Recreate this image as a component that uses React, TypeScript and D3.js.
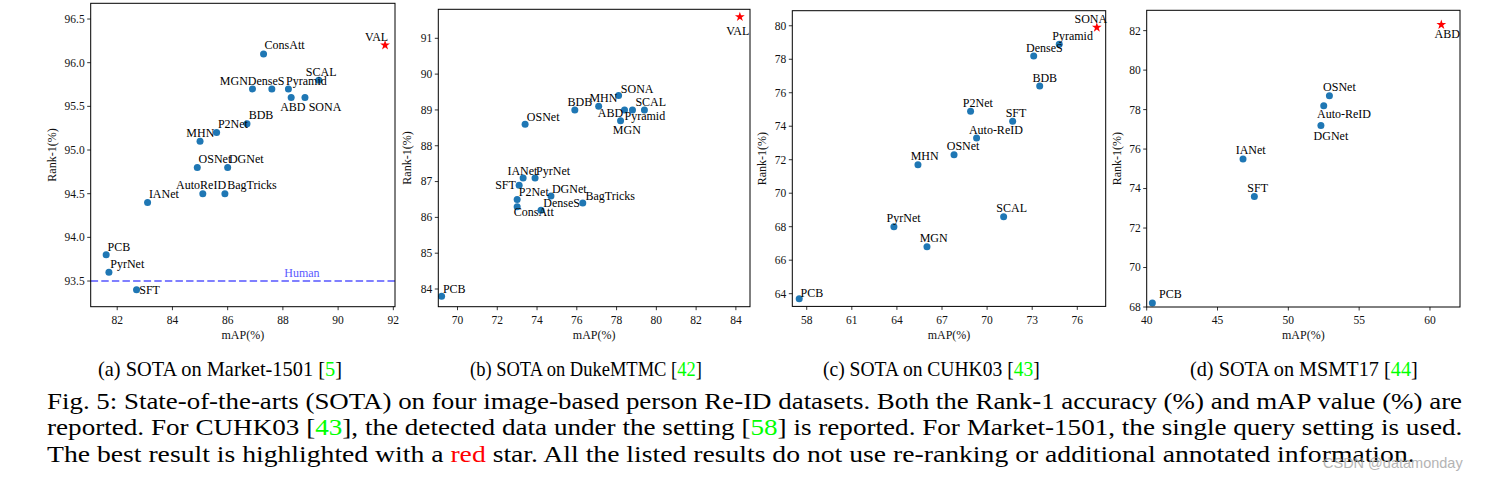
import React, { useLayoutEffect, useRef, useState } from 'react';
import * as d3 from 'd3';

// values: x = mAP(%), y = Rank-1(%)

// (a) Market-1501
const marketMethods = ['ConsAtt', 'SCAL', 'MGN', 'DenseS', 'Pyramid', 'ABD', 'SONA', 'BDB', 'P2Net', 'MHN', 'OSNet', 'DGNet', 'AutoReID', 'BagTricks', 'IANet', 'PCB', 'PyrNet', 'SFT'];
const marketMAP = [87.3, 89.3, 86.9, 87.6, 88.2, 88.3, 88.8, 86.7, 85.6, 85.0, 84.9, 86.0, 85.1, 85.9, 83.1, 81.6, 81.7, 82.7];
const marketRank1 = [96.1, 95.8, 95.7, 95.7, 95.7, 95.6, 95.6, 95.3, 95.2, 95.1, 94.8, 94.8, 94.5, 94.5, 94.4, 93.8, 93.6, 93.4];
const marketBest: [string, number, number] = ['VAL', 91.7, 96.2];
const marketHuman = 93.5;
const marketXTicks = [82, 84, 86, 88, 90, 92];
const marketYTicks = [93.5, 94.0, 94.5, 95.0, 95.5, 96.0, 96.5];

// (b) DukeMTMC
const dukeMethods = ['SONA', 'MHN', 'BDB', 'ABD', 'Pyramid', 'SCAL', 'MGN', 'OSNet', 'IANet', 'PyrNet', 'SFT', 'P2Net', 'ConsAtt', 'DGNet', 'DenseS', 'BagTricks', 'PCB'];
const dukeMAP = [78.1, 77.1, 75.9, 78.4, 78.8, 79.4, 78.2, 73.4, 73.3, 73.9, 73.1, 73.0, 73.0, 74.7, 74.2, 76.3, 69.2];
const dukeRank1 = [89.4, 89.1, 89.0, 89.0, 89.0, 89.0, 88.7, 88.6, 87.1, 87.1, 86.9, 86.5, 86.3, 86.6, 86.2, 86.4, 83.8];
const dukeBest: [string, number, number] = ['VAL', 84.2, 91.6];
const dukeXTicks = [70, 72, 74, 76, 78, 80, 82, 84];
const dukeYTicks = [84, 85, 86, 87, 88, 89, 90, 91];

// (c) CUHK03 (detected)
const cuhkMethods = ['Pyramid', 'DenseS', 'BDB', 'P2Net', 'SFT', 'Auto-ReID', 'OSNet', 'MHN', 'SCAL', 'PyrNet', 'MGN', 'PCB'];
const cuhkMAP = [74.8, 73.1, 73.5, 68.9, 71.7, 69.3, 67.8, 65.4, 71.1, 63.8, 66.0, 57.5];
const cuhkRank1 = [78.9, 78.2, 76.4, 74.9, 74.3, 73.3, 72.3, 71.7, 68.6, 68.0, 66.8, 63.7];
const cuhkBest: [string, number, number] = ['SONA', 77.3, 79.9];
const cuhkXTicks = [58, 61, 64, 67, 70, 73, 76];
const cuhkYTicks = [64, 66, 68, 70, 72, 74, 76, 78, 80];

// (d) MSMT17
const msmtMethods = ['OSNet', 'Auto-ReID', 'DGNet', 'IANet', 'SFT', 'PCB'];
const msmtMAP = [52.9, 52.5, 52.3, 46.8, 47.6, 40.4];
const msmtRank1 = [78.7, 78.2, 77.2, 75.5, 73.6, 68.2];
const msmtBest: [string, number, number] = ['ABD', 60.8, 82.3];
const msmtXTicks = [40, 45, 50, 55, 60];
const msmtYTicks = [68, 70, 72, 74, 76, 78, 80, 82];

// captions
type Seg = [string, string?];
const subCaptions: Seg[][] = [
  [['(a) SOTA on Market-1501 ['], ['5', 'green'], [']']],
  [['(b) SOTA on DukeMTMC ['], ['42', 'green'], [']']],
  [['(c) SOTA on CUHK03 ['], ['43', 'green'], [']']],
  [['(d) SOTA on MSMT17 ['], ['44', 'green'], [']']],
];
const figCaption: Seg[][] = [
  [['Fig. 5: State-of-the-arts (SOTA) on four image-based person Re-ID datasets. Both the Rank-1 accuracy (%) and mAP value (%) are']],
  [['reported. For CUHK03 ['], ['43', 'green'], ['], the detected data under the setting ['], ['58', 'green'], ['] is reported. For Market-1501, the single query setting is used.']],
  [['The best result is highlighted with a '], ['red', 'red'], [' star. All the listed results do not use re-ranking or additional annotated information.']],
];

const SERIF = '"Liberation Serif", "Times New Roman", serif';
const BLUE = '#1f77b4';
const colorOf = (c?: string) => (c === 'green' ? '#00ff00' : c === 'red' ? '#ff0000' : '#000');

interface Spec {
  methods: string[];
  mAP: number[];
  rank1: number[];
  best: [string, number, number];
  xTicks: number[];
  yTicks: number[];
  yFmt: string;
  frame: { left: number; right: number; top: number; bottom: number };
  xDomain: [number, number];
  yDomain: [number, number];
  yLabelX: number;
  offsets: Record<string, [number, number]>;
  bestOffset: [number, number];
  human?: number;
}

const DEF: [number, number] = [1.3, -4.3];

const specs: Spec[] = [
  {
    methods: marketMethods, mAP: marketMAP, rank1: marketRank1, best: marketBest,
    xTicks: marketXTicks, yTicks: marketYTicks, yFmt: '.1f',
    frame: { left: 90.7, right: 395, top: 3.3, bottom: 306.7 },
    xDomain: [81.04, 92.06], yDomain: [93.206, 96.68], yLabelX: 55.6,
    offsets: {
      ConsAtt: [1, -4.7], SCAL: [-13, -4.3], MGN: [-32.7, -4], DenseS: [-24, -4], Pyramid: [-2.3, -4],
      ABD: [-11, 13], SONA: [3.7, 13], BDB: [1.7, -4.7], MHN: [-13.7, -4.7], AutoReID: [-26.7, -4.7],
      BagTricks: [2.3, -4.7], SFT: [2.7, 4.7],
    },
    bestOffset: [-20, -4.3],
    human: marketHuman,
  },
  {
    methods: dukeMethods, mAP: dukeMAP, rank1: dukeRank1, best: dukeBest,
    xTicks: dukeXTicks, yTicks: dukeYTicks, yFmt: 'd',
    frame: { left: 438.3, right: 750, top: 9.3, bottom: 306.7 },
    xDomain: [69.034, 84.71], yDomain: [83.506, 91.81], yLabelX: 410.6,
    offsets: {
      SONA: [2.3, -3], MHN: [-9.3, -4.3], BDB: [-7.3, -3.7], ABD: [-26.7, 7], Pyramid: [-8, 10.3],
      SCAL: [-9, -3.7], MGN: [-7.7, 13.2], OSNet: [1.7, -3.3], IANet: [-15.7, -2.7], PyrNet: [1, -2.7],
      SFT: [-24, 3.6], P2Net: [1.6, -3.3], ConsAtt: [-3.4, 9.3], DGNet: [1, -3], DenseS: [2.3, -3.3],
      BagTricks: [2.7, -3.4], PCB: [1.3, -3.3],
    },
    bestOffset: [-13.7, 18.3],
  },
  {
    methods: cuhkMethods, mAP: cuhkMAP, rank1: cuhkRank1, best: cuhkBest,
    xTicks: cuhkXTicks, yTicks: cuhkYTicks, yFmt: 'd',
    frame: { left: 792.3, right: 1105.7, top: 10.7, bottom: 306.4 },
    xDomain: [57.04, 77.89], yDomain: [63.24, 80.9], yLabelX: 765.6,
    offsets: {
      Pyramid: [-7, -4.3], DenseS: [-7.7, -4.3], BDB: [-7.3, -4.3], P2Net: [-7.7, -4.3], SFT: [-7, -4.3],
      'Auto-ReID': [-7.7, -4], OSNet: [-7.3, -4.3], MHN: [-7.3, -4.3], SCAL: [-7.3, -4.3],
      PyrNet: [-7.3, -4.3], MGN: [-7.3, -4.3], PCB: [1.3, -1.7],
    },
    bestOffset: [-22.3, -4.7],
  },
  {
    methods: msmtMethods, mAP: msmtMAP, rank1: msmtRank1, best: msmtBest,
    xTicks: msmtXTicks, yTicks: msmtYTicks, yFmt: 'd',
    frame: { left: 1146.7, right: 1460, top: 10.3, bottom: 307 },
    xDomain: [40, 62.12], yDomain: [68, 83.03], yLabelX: 1120.6,
    offsets: {
      OSNet: [-6.3, -5], 'Auto-ReID': [-6.7, 12], DGNet: [-7.3, 14.7], IANet: [-7.3, -5],
      SFT: [-7, -4.3], PCB: [6.7, -5.3],
    },
    bestOffset: [-6.7, 13],
  },
];

const Panel: React.FC<{ spec: Spec }> = ({ spec }) => {
  const f = spec.frame;
  const x = d3.scaleLinear().domain(spec.xDomain).range([f.left, f.right]);
  const y = d3.scaleLinear().domain(spec.yDomain).range([f.bottom, f.top]);
  const fmt = d3.format(spec.yFmt);
  const star = d3.symbol(d3.symbolStar, 30)() || '';
  const [bName, bx, by] = spec.best;
  return (
    <g fontFamily={SERIF}>
      {spec.human != null && (
        <g>
          <line x1={f.left} x2={f.right} y1={y(spec.human)} y2={y(spec.human)}
            stroke="#7f7fff" strokeWidth={2} strokeDasharray="7.4 3.2" />
          <text x={x(88) + 1.4} y={y(spec.human) - 4.3} fontSize={12} fill="#5a5aff">Human</text>
        </g>
      )}
      {spec.methods.map((m, i) => (
        <circle key={m} cx={x(spec.mAP[i])} cy={y(spec.rank1[i])} r={3.5} fill={BLUE} />
      ))}
      <path d={star} transform={`translate(${x(bx)},${y(by)})`} fill="#ff0000" />
      {spec.methods.map((m, i) => {
        const [dx, dy] = spec.offsets[m] || DEF;
        return (
          <text key={m} x={x(spec.mAP[i]) + dx} y={y(spec.rank1[i]) + dy} fontSize={12} fill="#000">{m}</text>
        );
      })}
      <text x={x(bx) + spec.bestOffset[0]} y={y(by) + spec.bestOffset[1]} fontSize={12} fill="#000">{bName}</text>

      <rect x={f.left} y={f.top} width={f.right - f.left} height={f.bottom - f.top}
        fill="none" stroke="#000" strokeWidth={1} />
      {spec.xTicks.map(t => (
        <g key={t}>
          <line x1={x(t)} x2={x(t)} y1={f.bottom} y2={f.bottom + 3.5} stroke="#000" strokeWidth={0.8} />
          <text x={x(t)} y={f.bottom + 17.3} fontSize={11.5} textAnchor="middle" fill="#111">{t}</text>
        </g>
      ))}
      {spec.yTicks.map(t => (
        <g key={t}>
          <line x1={f.left - 3.5} x2={f.left} y1={y(t)} y2={y(t)} stroke="#000" strokeWidth={0.8} />
          <text x={f.left - 6} y={y(t)} dy="0.34em" fontSize={11.5} textAnchor="end" fill="#111">{fmt(t)}</text>
        </g>
      ))}
      <text x={(f.left + f.right) / 2} y={339} fontSize={12} textAnchor="middle" fill="#111">mAP(%)</text>
      <text transform={`translate(${spec.yLabelX},${(f.top + f.bottom) / 2}) rotate(-90)`}
        fontSize={12} textAnchor="middle" fill="#111">Rank-1(%)</text>
    </g>
  );
};

// text stretched horizontally to the width it takes in the reference
const FitText: React.FC<{ x: number; y: number; width: number; size: number; segs: Seg[] }> = ({ x, y, width, size, segs }) => {
  const ref = useRef<SVGTextElement>(null);
  const [k, setK] = useState(1);
  useLayoutEffect(() => {
    if (!ref.current) return;
    const w = ref.current.getComputedTextLength();
    if (w > 0) setK(width / w);
  }, [width]);
  return (
    <text ref={ref} transform={`translate(${x},${y}) scale(${k},1)`} fontFamily={SERIF}
      fontSize={size} style={{ whiteSpace: 'pre' }}>
      {segs.map((s, i) => (
        <tspan key={i} fill={colorOf(s[1])}>{s[0]}</tspan>
      ))}
    </text>
  );
};

const subLeft = [98, 470, 823, 1190];
const subWidth = [244, 232, 217, 228];
const capBase = [408.5, 435.2, 462];
const capWidth = [1416, 1416, 1368];

export default function App() {
  return (
    <svg width={1485} height={481} style={{ position: 'absolute', left: 0, top: 0, background: '#fff' }}>
      <rect width={1485} height={481} fill="#fff" />
      {specs.map((s, i) => <Panel key={i} spec={s} />)}
      {subCaptions.map((segs, i) => (
        <FitText key={i} x={subLeft[i]} y={376} width={subWidth[i]} size={20} segs={segs} />
      ))}
      {figCaption.map((segs, i) => (
        <FitText key={i} x={47} y={capBase[i]} width={capWidth[i]} size={23} segs={segs} />
      ))}
      <text x={1323} y={468} fontFamily='"Liberation Sans", Arial, sans-serif' fontSize={14.5}
        fill="#a8a8a8" opacity={0.85}>CSDN @datamonday</text>
    </svg>
  );
}
